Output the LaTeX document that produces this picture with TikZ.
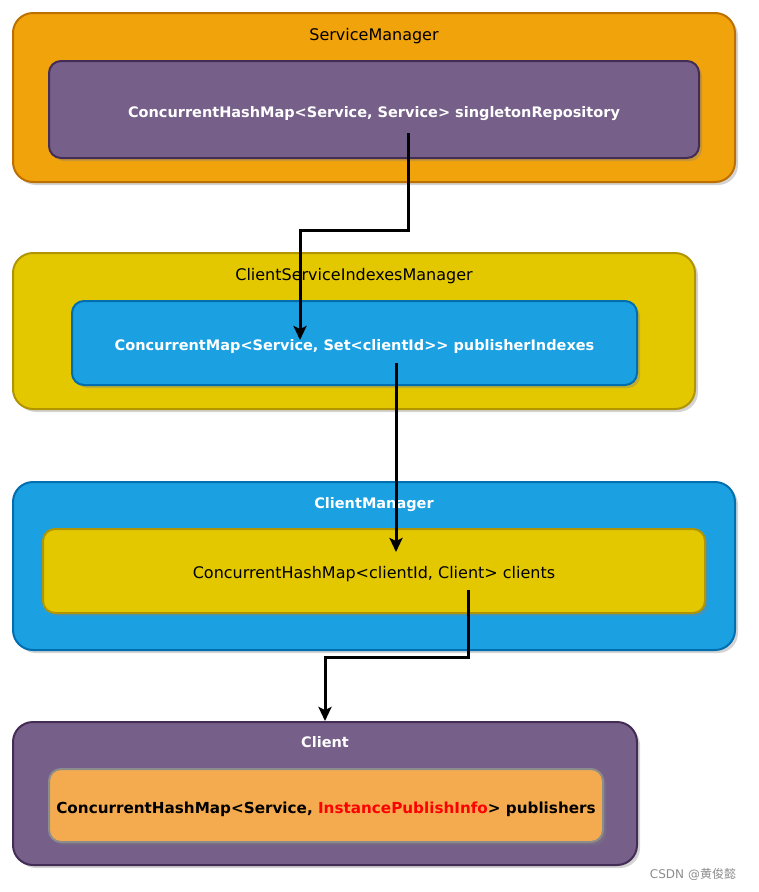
\documentclass[tikz,border=0pt]{standalone}
\usepackage{fontspec}
\setmainfont{DejaVu Sans}
\newfontfamily\cjkfont{Noto Sans CJK SC}
\usetikzlibrary{positioning, arrows.meta, shadows}

\definecolor{mgrorange}{HTML}{F0A30A}
\definecolor{mgrorangeline}{HTML}{BD7000}
\definecolor{mgrpurple}{HTML}{76608A}
\definecolor{mgrpurpleline}{HTML}{432D57}
\definecolor{mgryellow}{HTML}{E3C800}
\definecolor{mgryellowline}{HTML}{B09500}
\definecolor{mgrblue}{HTML}{1BA1E2}
\definecolor{mgrblueline}{HTML}{006EAF}
\definecolor{maplight}{HTML}{F4AB50}
\definecolor{mapgray}{HTML}{8C8C8C}

\newcommand{\plainfont}{\fontsize{16}{19}\selectfont}
\newcommand{\boldfont}{\fontsize{14.5}{17}\selectfont\bfseries}

\begin{document}
\begin{tikzpicture}[x=1pt,y=-1pt,font=\plainfont,
    manager/.style={draw,line width=2pt,rounded corners=20pt,
      drop shadow={shadow xshift=3pt,shadow yshift=-3pt,opacity=0.35}},
    mapbox/.style={draw,line width=2pt,rounded corners=12pt,text height=15pt,text depth=0pt,
      drop shadow={shadow xshift=3pt,shadow yshift=-3pt,opacity=0.35}},
    title/.style={on grid,inner sep=1pt},
    flow/.style={draw=black,line width=3pt,-{Stealth[length=14pt,width=13pt,inset=3pt]}}]
  \useasboundingbox (0,0) rectangle (759,892);

  % ServiceManager
  \node[manager,fill=mgrorange,draw=mgrorangeline,minimum width=722pt,minimum height=169pt] (sm) at (374,97.5) {};
  \node[title] (sm_title) [below=15pt of sm.north] {ServiceManager};
  \node[mapbox,fill=mgrpurple,draw=mgrpurpleline,text=white,font=\boldfont,
        minimum width=650pt,minimum height=97pt] (sm_map) at (374,109.5)
        {ConcurrentHashMap<Service, Service> singletonRepository};

  % ClientServiceIndexesManager
  \node[manager,fill=mgryellow,draw=mgryellowline,minimum width=682pt,minimum height=156pt] (csi) at (354,331) {};
  \node[title] (csi_title) [below=15pt of csi.north] {ClientServiceIndexesManager};
  \node[mapbox,fill=mgrblue,draw=mgrblueline,text=white,font=\boldfont,
        minimum width=565pt,minimum height=84pt] (csi_map) at (354.5,343)
        {ConcurrentMap<Service, Set<clientId>\kern0pt> publisherIndexes};

  % ClientManager
  \node[manager,fill=mgrblue,draw=mgrblueline,minimum width=722pt,minimum height=168pt] (cm) at (374,566) {};
  \node[title,text=white,font=\boldfont] (cm_title) [below=15pt of cm.north] {ClientManager};
  \node[mapbox,fill=mgryellow,draw=mgryellowline,minimum width=662pt,minimum height=84pt] (cm_map) at (374,571)
        {ConcurrentHashMap<clientId, Client> clients};

  % Client
  \node[manager,fill=mgrpurple,draw=mgrpurpleline,minimum width=624pt,minimum height=143pt] (cl) at (325,793.5) {};
  \node[title,text=white,font=\boldfont] (cl_title) [below=14pt of cl.north] {Client};
  \node[mapbox,fill=maplight,draw=mapgray,font=\fontsize{15.2}{18}\selectfont\bfseries,
        minimum width=554pt,minimum height=73pt] (cl_map) at (326,805.5)
        {ConcurrentHashMap<Service, \textcolor{red}{InstancePublishInfo}> publishers};

  \node[text=black!45,font=\fontsize{12}{14}\selectfont] (mark) at (693,874) {CSDN @{\cjkfont 黄俊懿}};

  % references
  \coordinate (sm_src) at (408,133);
  \coordinate (csi_dst) at (300,340);
  \coordinate (csi_src) at (396,363);
  \coordinate (cm_dst) at (396,552);
  \coordinate (cm_src) at (468,590);

  \draw[flow] (sm_src) -- ++(0,97) -| (csi_dst);
  \draw[flow] (csi_src) -- (cm_dst);
  \draw[flow] (cm_src) -- ++(0,67) -| (cl.north);
\end{tikzpicture}
\end{document}
